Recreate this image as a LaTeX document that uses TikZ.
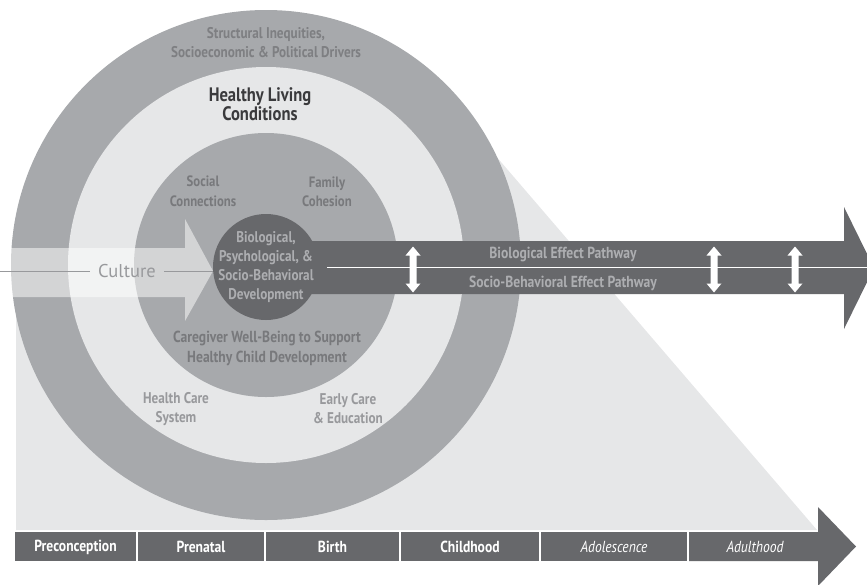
\documentclass[tikz,border=0pt]{standalone}
\usepackage{fontspec}
\setmainfont{PT Sans}[FakeStretch=0.85]
\newfontfamily\culturefont{PT Sans}
\definecolor{ringgray}{HTML}{A7A9AC}
\definecolor{lightgray}{HTML}{E6E7E8}
\definecolor{darkgray}{HTML}{67686B}
\definecolor{outertext}{HTML}{7E7F82}
\definecolor{midtext}{HTML}{78797C}
\definecolor{lighttext}{HTML}{98999C}
\definecolor{innertext}{HTML}{ADAEB1}
\definecolor{headtext}{HTML}{3A3A3C}
\tikzset{
  lbl/.style={align=center, font=\bfseries\fontsize{15.5}{19}\selectfont, inner sep=0pt},
  seg/.style={fill=darkgray, draw=none},
  segtext/.style={text=white, font=\bfseries\fontsize{16}{18}\selectfont, inner sep=0pt},
  segital/.style={text=white, font=\itshape\fontsize{16}{18}\selectfont, inner sep=0pt},
  dbl/.pic={\fill[white] (0,-23) -- (7.5,-14) -- (3.5,-14) -- (3.5,14) -- (7.5,14) -- (0,23) -- (-7.5,14) -- (-3.5,14) -- (-3.5,-14) -- (-7.5,-14) -- cycle;}
}
\begin{document}
\begin{tikzpicture}[x=1pt,y=-1pt]
\useasboundingbox (0,0) rectangle (867,584);
\clip (0,0) rectangle (867,584);
% background light polygon
\fill[lightgray] (16,265) -- (16,530) -- (817,530) -- (495,155) -- (266,265) -- cycle;
% circles
\fill[ringgray] (266,265) circle[radius=255];
\fill[lightgray] (266,265) circle[radius=198];
\fill[ringgray] (266,265) circle[radius=132];
% culture arrow
\fill[white, fill opacity=0.5] (0,248) -- (185,248) -- (185,219) -- (213,271) -- (185,321) -- (185,297) -- (0,297) -- cycle;
\coordinate (cl0) at (0,271);
\coordinate (cl1) at (90,271);
\coordinate (cl2) at (164,271);
\coordinate (cl3) at (213,271);
\draw[lighttext, line width=0.8pt] (cl0) -- (cl1);
\draw[lighttext, line width=0.8pt] (cl2) -- (cl3);
\node[text=lighttext, font=\culturefont\fontsize{18.5}{20}\selectfont, inner sep=0pt] (culture) at (127,271) {Culture};
% big arrow
\fill[darkgray] (266,241) -- (844,241) -- (844,207) -- (874,268) -- (844,329) -- (844,294) -- (266,294) -- cycle;
\fill[darkgray] (266,267) circle[radius=53];
\coordinate (wl0) at (327,267.5);
\coordinate (wl1) at (867,267.5);
\draw[white, line width=1pt] (wl0) -- (wl1);
\pic at (413,269.5) {dbl};
\pic at (714,269.5) {dbl};
\pic at (795,269.5) {dbl};
% texts
\node[lbl, text=outertext] (struct) at (266,43) {Structural Inequities,\\Socioeconomic \& Political Drivers};
\node[lbl, text=headtext, font=\bfseries\fontsize{19.5}{19.5}\selectfont] (hlc) at (260,104) {Healthy Living\\Conditions};
\node[lbl, text=midtext, font=\bfseries\fontsize{15}{19.5}\selectfont] (social) at (203,191) {Social\\Connections};
\node[lbl, text=midtext, font=\bfseries\fontsize{15}{19.5}\selectfont] (family) at (327,192) {Family\\Cohesion};
\node[lbl, text=innertext, font=\bfseries\fontsize{15.5}{19}\selectfont] (bio) at (266,267) {Biological,\\Psychological, \&\\Socio-Behavioral\\Development};
\node[lbl, text=midtext, font=\bfseries\fontsize{16}{20}\selectfont] (care) at (267,348) {Caregiver Well-Being to Support\\Healthy Child Development};
\node[lbl, text=lighttext] (hcs) at (176,409) {Health Care\\System};
\node[lbl, text=lighttext] (ece) at (348,409) {Early Care\\\& Education};
\node[lbl, text=innertext, font=\bfseries\fontsize{16}{19}\selectfont] (bep) at (563,255) {Biological Effect Pathway};
\node[lbl, text=innertext, font=\bfseries\fontsize{16}{19}\selectfont] (sbep) at (563,283) {Socio-Behavioral Effect Pathway};
% timeline
\fill[seg] (15,532) rectangle (136,561);
\fill[seg] (138,532) rectangle (264,561);
\fill[seg] (266,532) rectangle (399,561);
\fill[seg] (401,532) rectangle (539,561);
\fill[seg] (541,532) rectangle (687,561);
\fill[seg] (689,532) -- (818,532) -- (818,507) -- (856,546.5) -- (818,586) -- (818,561) -- (689,561) -- cycle;
\node[segtext] (t1) at (75.5,547) {Preconception};
\node[segtext] (t2) at (201,547) {Prenatal};
\node[segtext] (t3) at (332.5,547) {Birth};
\node[segtext] (t4) at (470,547) {Childhood};
\node[segital] (t5) at (614,547) {Adolescence};
\node[segital] (t6) at (755,547) {Adulthood};
\end{tikzpicture}
\end{document}
